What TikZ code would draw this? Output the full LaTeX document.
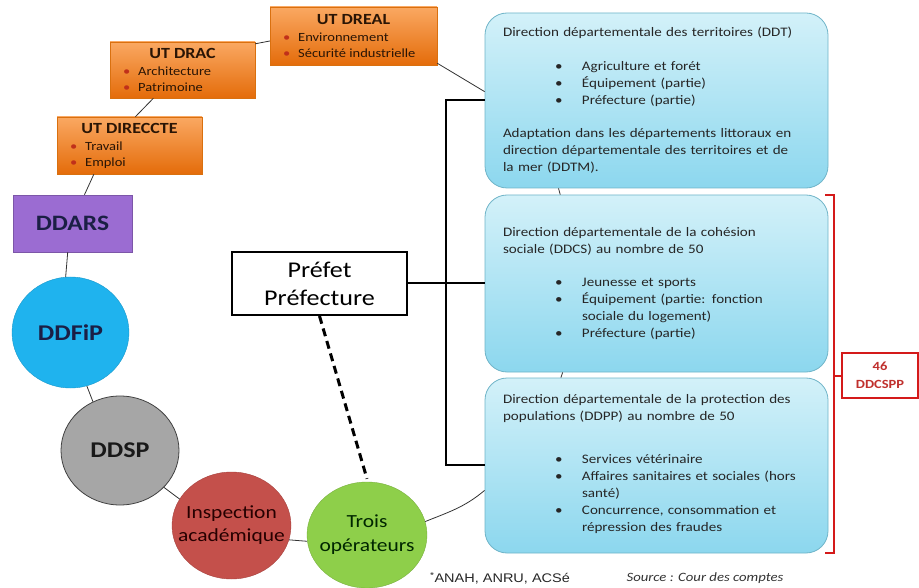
\documentclass[tikz,border=0pt]{standalone}
\usepackage{fontspec}
\setmainfont{Carlito}[FakeStretch=1.16]
\newfontfamily\footfont{Liberation Sans}[FakeStretch=1.16]
\usetikzlibrary{shapes.geometric,calc}
\definecolor{orangetop}{HTML}{FAA862}
\definecolor{orangebot}{HTML}{E46C0A}
\definecolor{orangeline}{HTML}{D9700F}
\definecolor{bulred}{HTML}{C0301A}
\definecolor{otext}{HTML}{2A1505}
\definecolor{ddarsc}{HTML}{9B6CD2}
\definecolor{ddfipc}{HTML}{1FB3EE}
\definecolor{ddspc}{HTML}{A6A6A6}
\definecolor{inspc}{HTML}{C4504B}
\definecolor{troisc}{HTML}{8ECF4A}
\definecolor{navytext}{HTML}{1B1F45}
\definecolor{bluetop}{HTML}{D3F1F9}
\definecolor{bluebot}{HTML}{8CD7EE}
\definecolor{blueline}{HTML}{6FB4C8}
\definecolor{redbr}{HTML}{D41A1A}
\definecolor{redtext}{HTML}{C0302D}
\newcommand\obul[2]{\makebox[#1][l]{\textcolor{bulred}{\textbullet}\hspace{8pt}#2}}
\newcommand\bitem[1]{\hspace*{52pt}\makebox[27pt][l]{\textbullet}#1}
\newcommand\bcont[1]{\hspace*{79pt}#1}
\newcommand\circline[1]{\makebox[60pt]{#1}}
\begin{document}
\begin{tikzpicture}[x=1pt,y=-1pt,
  obox/.style={rectangle, draw=orangeline, line width=0.4pt, top color=orangetop, bottom color=orangebot,
    inner sep=0pt, align=center, text=otext, font=\fontsize{12.5}{16}\selectfont},
  circ/.style={ellipse, inner sep=0pt, align=center},
  bbox/.style={rectangle, rounded corners=22pt, draw=blueline, line width=0.8pt,
    top color=bluetop, bottom color=bluebot, minimum width=343pt, text width=307pt,
    inner xsep=18pt, inner ysep=0pt, align=left, font=\fontsize{13}{17}\selectfont, text=black!85},
  conn/.style={draw=black!80, line width=0.8pt},
  thickconn/.style={draw=black, line width=2pt},
  redl/.style={draw=redbr, line width=2pt}
]
\useasboundingbox (0,0) rectangle (919,588);

% orange boxes
\node[obox, minimum width=167pt, minimum height=58pt] (dreal) at (353.5,36)
  {{\fontsize{15.5}{16}\selectfont\bfseries UT DREAL}\\[1pt]
   \obul{141pt}{Environnement}\\ \obul{141pt}{Sécurité industrielle}};
\node[obox, minimum width=145pt, minimum height=56pt] (drac) at (182.5,70)
  {{\fontsize{15.5}{16}\selectfont\bfseries UT DRAC}\\[1pt]
   \obul{119pt}{Architecture}\\ \obul{119pt}{Patrimoine}};
\node[obox, minimum width=145pt, minimum height=57pt] (direccte) at (129.5,145.5)
  {{\fontsize{15.5}{16}\selectfont\bfseries UT DIRECCTE}\\[1pt]
   \obul{119pt}{Travail}\\ \obul{119pt}{Emploi}};

% purple box
\node[rectangle, fill=ddarsc, draw=ddarsc!80!black, line width=0.4pt, minimum width=119pt, minimum height=57pt,
  text=navytext, font=\fontsize{22}{24}\selectfont\bfseries] (ddars) at (72.5,223.5) {DDARS};

% circles
\node[circ, fill=ddfipc, draw=ddfipc!85!black, line width=0.4pt, minimum width=117pt, minimum height=111pt,
  text=navytext, font=\fontsize{22.5}{24}\selectfont\bfseries] (ddfip) at (70.5,332.5) {\circline{DDFiP}};
\node[circ, fill=ddspc, draw=black!75, line width=0.8pt, minimum width=118pt, minimum height=109pt,
  text=black!90, font=\fontsize{22.5}{24}\selectfont\bfseries] (ddsp) at (120,450.5) {\circline{DDSP}};
\node[circ, fill=inspc, draw=inspc!85!black, line width=0.4pt, minimum width=119pt, minimum height=107pt,
  text=black!85!red, font=\fontsize{18.5}{23}\selectfont] (insp) at (231.5,525.5) {\circline{Inspection}\\\circline{académique}};
\node[circ, fill=troisc, draw=troisc!85!black, line width=0.4pt, minimum width=120pt, minimum height=106pt,
  text=black!85!green, font=\fontsize{18.5}{24}\selectfont] (trois) at (367,535) {\circline{Trois}\\\circline{opérateurs}};

% prefet
\node[rectangle, draw=black, line width=2pt, fill=white, minimum width=175pt, minimum height=63pt,
  align=center, inner sep=0pt, font=\fontsize{22.5}{28}\selectfont] (prefet) at (319.5,283.5) {Préfet\\Préfecture};

% blue boxes
\node[bbox, minimum height=175pt] (ddt) at (656.5,100.5)
  {Direction départementale des territoires (DDT)\\[17pt]
   \bitem{Agriculture et forét}\\
   \bitem{Équipement (partie)}\\
   \bitem{Préfecture (partie)}\\[16pt]
   Adaptation dans les départements littoraux en\\
   direction départementale des territoires et de\\
   la mer (DDTM).};
\node[bbox, minimum height=177pt] (ddcs) at (656.5,283.5)
  {Direction départementale de la cohésion\\
   sociale (DDCS) au nombre de 50\\[16pt]
   \bitem{Jeunesse et sports}\\
   \bitem{Équipement (partie: fonction}\\
   \bcont{sociale du logement)}\\
   \bitem{Préfecture (partie)}};
\node[bbox, minimum height=175pt] (ddpp) at (656.5,465.5)
  {Direction départementale de la protection des\\
   populations (DDPP) au nombre de 50\\[26pt]
   \bitem{Services vétérinaire}\\
   \bitem{Affaires sanitaires et sociales (hors}\\
   \bcont{santé)}\\
   \bitem{Concurrence, consommation et}\\
   \bcont{répression des fraudes}\\[-12pt]\mbox{}};

% red box
\node[rectangle, draw=redbr, line width=2pt, fill=white, minimum width=76pt, minimum height=45pt,
  align=center, inner sep=0pt, text=redtext, font=\fontsize{12.5}{18}\selectfont\bfseries] (ddcspp) at (880,375.5) {46\\DDCSPP};

% footer
\node[font=\footfont\fontsize{12.5}{14}\selectfont, text=black!85, inner sep=0pt] (anah) at (500,578) {\textsuperscript{*}ANAH, ANRU, ACSé};
\node[font=\fontsize{12.7}{14}\selectfont\itshape, text=black!80, inner sep=0pt] (source) at (705,578) {Source : Cour des comptes};

% connectors
\draw[conn] ($(drac.north east)+(0,2)$) -- ($(dreal.west)+(0,5)$);
\draw[conn] ($(drac.south west)!0.3!(drac.south east)$) -- ($(direccte.north west)!0.54!(direccte.north east)$);
\draw[conn] ($(direccte.south west)!0.255!(direccte.south east)$) -- ($(ddars.north west)!0.6!(ddars.north east)$);
\draw[conn] ($(ddars.south west)!0.46!(ddars.south east)$) -- (ddfip.95);
\draw[conn] (ddfip.-73) -- (ddsp.119);
\draw[conn] (ddsp.-40) -- (insp.153);
\draw[conn] (insp.-14) -- (trois.-174);
\coordinate (ddppin) at ($(ddpp.south west)+(0,-63)$);
\draw[conn] (trois.13) to[out=22,in=-140] (ddppin);
\coordinate (ddtin) at ($(ddt.north west)+(0,79)$);
\draw[conn] ($(dreal.south east)+(0,-2)$) -- (ddtin);
\draw[conn] ($(ddt.south west)!0.215!(ddt.south east)$) -- ($(ddcs.north west)!0.22!(ddcs.north east)$);
\draw[conn] ($(ddcs.south west)!0.227!(ddcs.south east)$) -- ($(ddpp.north west)!0.222!(ddpp.north east)$);

% prefet links
\coordinate (bt) at (446,100);
\coordinate (bb) at (446,465);
\draw[thickconn] (prefet.east) -- (prefet.east -| ddcs.west);
\draw[thickconn] (bt -| ddt.west) -- (bt) -- (bb) -- (bb -| ddpp.west);
\draw[draw=black, line width=3pt, dash pattern=on 8pt off 5pt] (prefet.south) -- ($(trois.north)+(0,-3)$);

% red bracket
\coordinate (rt) at (834,195);
\coordinate (rb) at (834,553);
\draw[redl] ($(rt)+(-9,0)$) -- (rt) -- (rb) -- ($(rb)+(-9,0)$);
\draw[redl] (ddcspp.west -| rt) -- (ddcspp.west);
\end{tikzpicture}
\end{document}
